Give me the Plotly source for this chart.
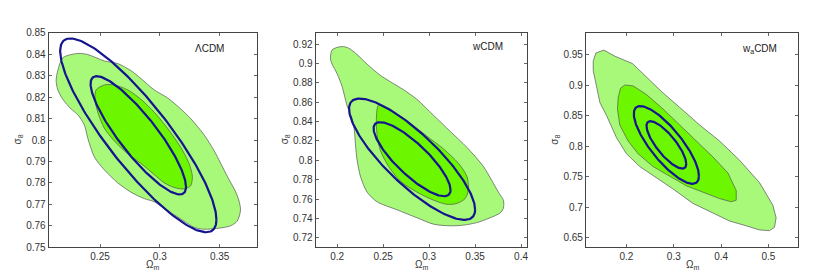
import numpy as np
import plotly.graph_objects as go

# ---------------- data ----------------
panel_names = ["ΛCDM", "wCDM", "w<sub>a</sub>CDM"]

# Panel 1 (ΛCDM) contours
p1_outer_x = [0.2189, 0.2314, 0.2397, 0.2536, 0.2647, 0.2758, 0.2842, 0.2953, 0.3064, 0.3175, 0.3258,
              0.3369, 0.3453, 0.3564, 0.3647, 0.3675, 0.3647, 0.3592, 0.3508, 0.3369, 0.3286, 0.3203,
              0.3119, 0.3036, 0.2953, 0.2869, 0.2758, 0.2647, 0.2536, 0.2453, 0.2397, 0.2369, 0.2314,
              0.2258, 0.2189, 0.2147, 0.2133, 0.2147, 0.2189]
p1_outer_y = [0.8384, 0.8404, 0.8399, 0.8369, 0.8357, 0.8324, 0.8287, 0.8234, 0.8197, 0.8145, 0.8100,
              0.8025, 0.7951, 0.7831, 0.7742, 0.7675, 0.7622, 0.7600, 0.7590, 0.7584, 0.7593, 0.7622,
              0.7652, 0.7682, 0.7712, 0.7727, 0.7757, 0.7801, 0.7861, 0.7921, 0.8010, 0.8070, 0.8118,
              0.8145, 0.8190, 0.8234, 0.8279, 0.8324, 0.8384]
p1_inner_x = [0.2467, 0.2536, 0.2619, 0.2731, 0.2842, 0.2953, 0.3064, 0.3175, 0.3244, 0.3272, 0.3258,
              0.3203, 0.3119, 0.3036, 0.2953, 0.2842, 0.2731, 0.2619, 0.2536, 0.2481, 0.2458, 0.2467]
p1_inner_y = [0.8234, 0.8257, 0.8257, 0.8234, 0.8190, 0.8130, 0.8055, 0.7966, 0.7891, 0.7831, 0.7787,
              0.7772, 0.7779, 0.7801, 0.7839, 0.7891, 0.7936, 0.7996, 0.8055, 0.8130, 0.8190, 0.8234]

# Panel 2 (wCDM) contours
p2_outer_x = [0.1928, 0.1946, 0.2054, 0.2127, 0.2217, 0.2326, 0.2470, 0.2579, 0.2723, 0.2868, 0.3049,
              0.3230, 0.3411, 0.3591, 0.3754, 0.3808, 0.3808, 0.3772, 0.3664, 0.3519, 0.3374, 0.3230,
              0.3049, 0.2868, 0.2651, 0.2434, 0.2326, 0.2253, 0.2217, 0.2199, 0.2188, 0.2163, 0.2108,
              0.2054, 0.2000, 0.1946, 0.1928]
p2_outer_y = [0.9042, 0.9141, 0.9174, 0.9157, 0.9091, 0.8992, 0.8877, 0.8811, 0.8728, 0.8629, 0.8464,
              0.8299, 0.8134, 0.7936, 0.7672, 0.7589, 0.7507, 0.7457, 0.7408, 0.7358, 0.7332, 0.7325,
              0.7342, 0.7408, 0.7490, 0.7573, 0.7672, 0.7837, 0.8002, 0.8167, 0.8299, 0.8431, 0.8563,
              0.8761, 0.8893, 0.8992, 0.9042]
p2_inner_x = [0.2452, 0.2615, 0.2796, 0.2976, 0.3157, 0.3320, 0.3410, 0.3429, 0.3392, 0.3302, 0.3193,
              0.3049, 0.2868, 0.2687, 0.2561, 0.2470, 0.2434, 0.2427, 0.2452]
p2_inner_y = [0.8573, 0.8497, 0.8382, 0.8250, 0.8118, 0.7969, 0.7837, 0.7705, 0.7606, 0.7556, 0.7547,
              0.7589, 0.7672, 0.7787, 0.7936, 0.8101, 0.8266, 0.8431, 0.8573]

# Panel 3 (waCDM) contours
p3_outer_x = [0.1297, 0.1354, 0.1522, 0.1754, 0.2126, 0.2422, 0.2773, 0.3124, 0.3546, 0.3967, 0.4389,
              0.4810, 0.5091, 0.5162, 0.5127, 0.5021, 0.4810, 0.4529, 0.4178, 0.3827, 0.3405, 0.2984,
              0.2632, 0.2281, 0.2000, 0.1789, 0.1578, 0.1438, 0.1354, 0.1297, 0.1297]
p3_outer_y = [0.9395, 0.9526, 0.9573, 0.9474, 0.9353, 0.9134, 0.8872, 0.8636, 0.8348, 0.8086, 0.7772,
              0.7406, 0.7039, 0.6830, 0.6673, 0.6620, 0.6631, 0.6699, 0.6777, 0.6908, 0.7065, 0.7301,
              0.7484, 0.7668, 0.7877, 0.8139, 0.8505, 0.8715, 0.9029, 0.9238, 0.9395]
p3_inner_x = [0.1824, 0.1874, 0.1965, 0.2141, 0.2422, 0.2773, 0.3124, 0.3475, 0.3827, 0.4143, 0.4319,
              0.4319, 0.4213, 0.3967, 0.3616, 0.3265, 0.2913, 0.2562, 0.2246, 0.2035, 0.1859, 0.1810, 0.1824]
p3_inner_y = [0.8793, 0.8950, 0.9003, 0.8987, 0.8846, 0.8610, 0.8348, 0.8086, 0.7825, 0.7563, 0.7275,
              0.7118, 0.7092, 0.7144, 0.7249, 0.7353, 0.7510, 0.7668, 0.7877, 0.8086, 0.8348, 0.8610, 0.8793]

# Forecast (Fisher) ellipses: centre, sigma_Om, sigma_s8, correlation
ell_x0 = [0.2820, 0.2815, 0.2843]
ell_y0 = [0.8022, 0.8012, 0.8022]
ell_sx = [0.0263, 0.0276, 0.0277]
ell_sy = [0.0182, 0.0252, 0.0256]
ell_rho = [-0.87, -0.83, -0.80]
ell_dchi2 = [2.30, 6.17]  # 68% and 95% for 2 parameters

# axes
x_ranges = [[0.207, 0.381], [0.1765, 0.4062], [0.1142, 0.5632]]
y_ranges = [[0.75, 0.85], [0.7104, 0.9315], [0.6348, 0.9855]]
x_ticks = [[0.25, 0.3, 0.35], [0.2, 0.25, 0.3, 0.35, 0.4], [0.2, 0.3, 0.4, 0.5]]
x_ticktext = [["0.25", "0.3", "0.35"], ["0.2", "0.25", "0.3", "0.35", "0.4"], ["0.2", "0.3", "0.4", "0.5"]]
y_ticks = [[0.75, 0.76, 0.77, 0.78, 0.79, 0.8, 0.81, 0.82, 0.83, 0.84, 0.85],
           [0.72, 0.74, 0.76, 0.78, 0.8, 0.82, 0.84, 0.86, 0.88, 0.9, 0.92],
           [0.65, 0.7, 0.75, 0.8, 0.85, 0.9, 0.95]]
y_ticktext = [["0.75", "0.76", "0.77", "0.78", "0.79", "0.8", "0.81", "0.82", "0.83", "0.84", "0.85"],
              ["0.72", "0.74", "0.76", "0.78", "0.8", "0.82", "0.84", "0.86", "0.88", "0.9", "0.92"],
              ["0.65", "0.7", "0.75", "0.8", "0.85", "0.9", "0.95"]]

# ---------------- styling ----------------
W, H = 817, 275
x_dom = [[40.7, 249.3], [308.3, 520.0], [579.3, 792.3]]
y_dom_px = [20.7, 244.0]
OUTER_FILL = "#a8f97a"
INNER_FILL = "#6cf700"
EDGE = "#555555"
BLUE = "#14148f"
FONT = "Liberation Sans, Arial, sans-serif"
TXT = "#333333"

contours = [
    (p1_outer_x, p1_outer_y, p1_inner_x, p1_inner_y, "spline"),
    (p2_outer_x, p2_outer_y, p2_inner_x, p2_inner_y, "spline"),
    (p3_outer_x, p3_outer_y, p3_inner_x, p3_inner_y, "linear"),
]

fig = go.Figure()
t = np.linspace(0, 2 * np.pi, 240)
for i in range(3):
    xa = "x" if i == 0 else f"x{i+1}"
    ya = "y" if i == 0 else f"y{i+1}"
    ox, oy, ix, iy, shape = contours[i]
    for cx, cy, col in [(ox, oy, OUTER_FILL), (ix, iy, INNER_FILL)]:
        fig.add_trace(go.Scatter(x=cx, y=cy, mode="lines", fill="toself", fillcolor=col,
                                 line=dict(color=EDGE, width=0.7, shape=shape, smoothing=0.8),
                                 xaxis=xa, yaxis=ya, showlegend=False, hoverinfo="skip"))
    for d in ell_dchi2:
        k = np.sqrt(d)
        r = ell_rho[i]
        ex = ell_x0[i] + k * ell_sx[i] * np.cos(t)
        ey = ell_y0[i] + k * ell_sy[i] * (r * np.cos(t) + np.sqrt(1 - r * r) * np.sin(t))
        fig.add_trace(go.Scatter(x=ex, y=ey, mode="lines", line=dict(color=BLUE, width=2.2),
                                 xaxis=xa, yaxis=ya, showlegend=False, hoverinfo="skip"))

layout = dict(width=W, height=H, margin=dict(l=0, r=0, t=0, b=0),
              paper_bgcolor="white", plot_bgcolor="white",
              font=dict(family=FONT, size=10, color=TXT))
ydom = [1 - y_dom_px[1] / H, 1 - y_dom_px[0] / H]
axis_common = dict(showgrid=False, zeroline=False, showline=True, linecolor="#444444", linewidth=1,
                   mirror="ticks", ticks="inside", ticklen=3, tickcolor="#666666",
                   tickfont=dict(family=FONT, size=10, color=TXT))
annotations = []
for i in range(3):
    sfx = "" if i == 0 else str(i + 1)
    layout["xaxis" + sfx] = dict(axis_common, domain=[x_dom[i][0] / W, x_dom[i][1] / W],
                                 range=x_ranges[i], tickvals=x_ticks[i], ticktext=x_ticktext[i],
                                 anchor="y" + sfx)
    layout["yaxis" + sfx] = dict(axis_common, domain=ydom, range=y_ranges[i],
                                 tickvals=y_ticks[i], ticktext=y_ticktext[i], anchor="x" + sfx)
    xc = (x_dom[i][0] + x_dom[i][1]) / 2 / W
    annotations.append(dict(text="Ω<sub>m</sub>", x=xc, y=1 - 262 / H, xref="paper", yref="paper",
                            showarrow=False, font=dict(size=10, color=TXT), xanchor="center", yanchor="middle"))
    annotations.append(dict(text="σ<sub>8</sub>", x=(x_dom[i][0] - 31) / W, y=1 - 132 / H,
                            xref="paper", yref="paper", textangle=-90, showarrow=False,
                            font=dict(size=10, color=TXT), xanchor="center", yanchor="middle"))
label_pos = [(202, 37), (481, 35), (753, 38)]
for i in range(3):
    annotations.append(dict(text=panel_names[i], x=label_pos[i][0] / W, y=1 - label_pos[i][1] / H,
                            xref="paper", yref="paper", showarrow=False,
                            font=dict(size=10, color="#222222"), xanchor="center", yanchor="middle"))
layout["annotations"] = annotations
fig.update_layout(**layout)
fig.write_html("out.html")
